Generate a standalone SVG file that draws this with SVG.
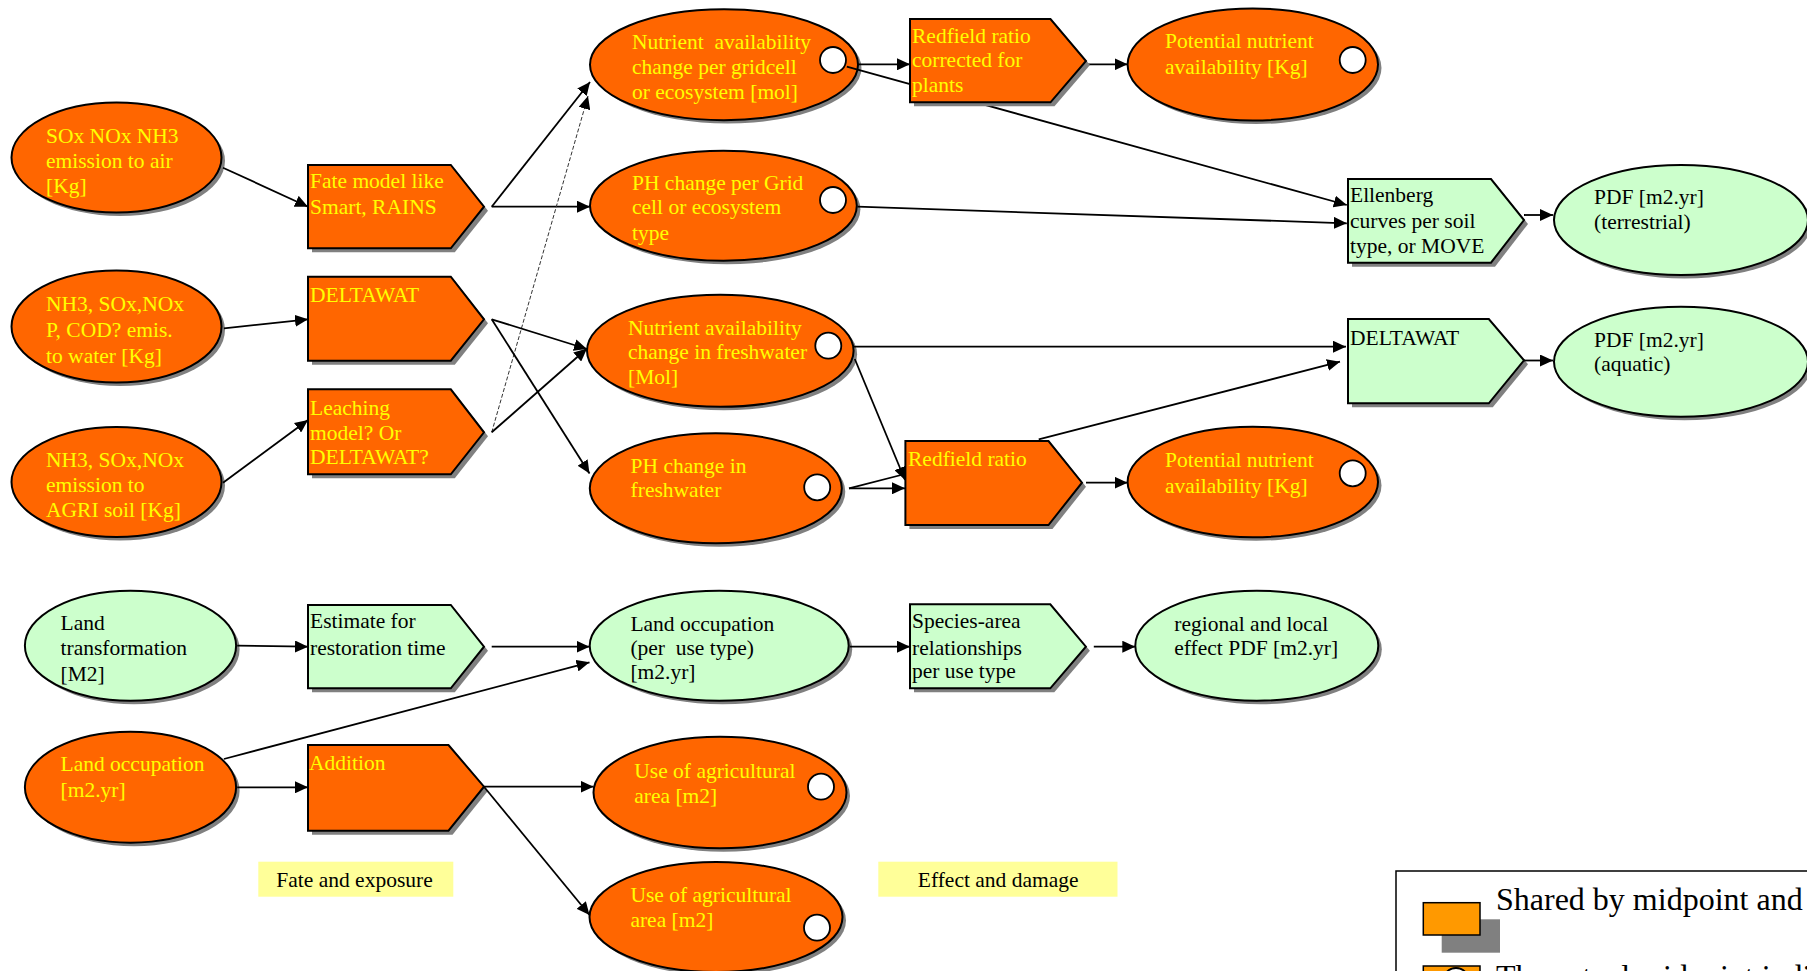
<svg xmlns="http://www.w3.org/2000/svg" width="1807" height="971" viewBox="0 0 1807 971">
  <style>
    text { font-family: "Liberation Serif", "Times New Roman", serif; font-size: 21.5px; }
    .ye { fill: #FFFF00; }
    .bk { fill: #000000; }
    .or { fill: #FF6600; stroke: #000; stroke-width: 2; }
    .gr { fill: #CCFFCC; stroke: #000; stroke-width: 2; }
    .sh { fill: #808080; stroke: none; }
    .dot { fill: #FFFFFF; stroke: #000; stroke-width: 1.8; }
    .ln { fill: none; stroke: #000; stroke-width: 1.8; }
    .arr { marker-end: url(#ah); }
    .dash { fill: none; stroke: #333; stroke-width: 1; stroke-dasharray: 4 2; }
    .tag { fill: #FFFF99; }
  </style>
  <defs>
    <marker id="ah" markerUnits="userSpaceOnUse" markerWidth="14" markerHeight="12" refX="13" refY="6" orient="auto">
      <path d="M0,0 L13,6 L0,12 z" fill="#000"/>
    </marker>
    <marker id="ahs" markerUnits="userSpaceOnUse" markerWidth="14" markerHeight="12" refX="13" refY="6" orient="auto">
      <path d="M0,0 L13,6 L0,12 z" fill="#000"/>
    </marker>
  </defs>
  <rect width="1807" height="971" fill="#FFFFFF"/>

  <!-- emission sources -->
  <g id="sox-air">
    <ellipse class="sh" cx="120" cy="161" rx="105" ry="55"/>
    <ellipse class="or" cx="116.5" cy="157.5" rx="105" ry="55"/>
    <text class="ye" x="46"><tspan x="46" y="142.5">SOx NOx NH3</tspan><tspan x="46" y="167.5">emission to air</tspan><tspan x="46" y="192.5">[Kg]</tspan></text>
  </g>
  <g id="emis-water">
    <ellipse class="sh" cx="120" cy="330" rx="105" ry="56"/>
    <ellipse class="or" cx="116.5" cy="326.5" rx="105" ry="56"/>
    <text class="ye"><tspan x="46" y="311">NH3, SOx,NOx</tspan><tspan x="46" y="336.5">P, COD? emis.</tspan><tspan x="46" y="362.5">to water [Kg]</tspan></text>
  </g>
  <g id="emis-soil">
    <ellipse class="sh" cx="120" cy="485.5" rx="105" ry="55"/>
    <ellipse class="or" cx="116.5" cy="482" rx="105" ry="55"/>
    <text class="ye"><tspan x="46" y="467">NH3, SOx,NOx</tspan><tspan x="46" y="491.5">emission to</tspan><tspan x="46" y="516.5">AGRI soil [Kg]</tspan></text>
  </g>

  <!-- fate models -->
  <g id="fate-model">
    <path class="sh" d="M312,169 H454.8 L488,210.7 L454.8,252.3 H312 Z"/>
    <path class="or" d="M308,165 H450.8 L484,206.7 L450.8,248.3 H308 Z"/>
    <text class="ye"><tspan x="310" y="188.3">Fate model like</tspan><tspan x="310" y="214.3">Smart, RAINS</tspan></text>
  </g>
  <g id="deltawat-fate">
    <path class="sh" d="M312,280.7 H454.8 L488,323.3 L454.8,364.7 H312 Z"/>
    <path class="or" d="M308,276.7 H450.8 L484,319.3 L450.8,360.7 H308 Z"/>
    <text class="ye" x="310" y="302.3">DELTAWAT</text>
  </g>
  <g id="leaching">
    <path class="sh" d="M312,393.3 H454.8 L488,436.3 L454.8,478.3 H312 Z"/>
    <path class="or" d="M308,389.3 H450.8 L484,432.3 L450.8,474.3 H308 Z"/>
    <text class="ye"><tspan x="310" y="415">Leaching</tspan><tspan x="310" y="440">model? Or</tspan><tspan x="310" y="464">DELTAWAT?</tspan></text>
  </g>

  <!-- midpoints -->
  <g id="nutrient-grid">
    <ellipse class="sh" cx="727.5" cy="68" rx="134" ry="55.5"/>
    <ellipse class="or" cx="724" cy="64.7" rx="134" ry="55.5"/>
    <circle class="dot" cx="833" cy="60" r="13"/>
    <text class="ye" xml:space="preserve"><tspan x="632" y="49.3">Nutrient  availability</tspan><tspan x="632" y="74">change per gridcell</tspan><tspan x="632" y="99">or ecosystem [mol]</tspan></text>
  </g>
  <g id="ph-grid">
    <ellipse class="sh" cx="727" cy="209.3" rx="133.4" ry="55"/>
    <ellipse class="or" cx="723.4" cy="205.8" rx="133.4" ry="55"/>
    <circle class="dot" cx="833" cy="200" r="13"/>
    <text class="ye"><tspan x="632" y="190">PH change per Grid</tspan><tspan x="632" y="214.3">cell or ecosystem</tspan><tspan x="632" y="240">type</tspan></text>
  </g>
  <g id="nutrient-fresh">
    <ellipse class="sh" cx="723.8" cy="354.3" rx="133.3" ry="56"/>
    <ellipse class="or" cx="720.3" cy="350.8" rx="133.3" ry="56"/>
    <circle class="dot" cx="828.3" cy="345.7" r="13"/>
    <text class="ye"><tspan x="628" y="335">Nutrient availability</tspan><tspan x="628" y="359">change in freshwater</tspan><tspan x="628" y="384">[Mol]</tspan></text>
  </g>
  <g id="ph-fresh">
    <ellipse class="sh" cx="719.3" cy="491.8" rx="126" ry="55"/>
    <ellipse class="or" cx="715.8" cy="488.3" rx="126" ry="55"/>
    <circle class="dot" cx="817.2" cy="487.3" r="13"/>
    <text class="ye"><tspan x="630.6" y="472.7">PH change in</tspan><tspan x="630.6" y="496.7">freshwater</tspan></text>
  </g>

  <g id="potential-1">
    <ellipse class="sh" cx="1256.3" cy="68" rx="125.2" ry="56"/>
    <ellipse class="or" cx="1252.8" cy="64.5" rx="125.2" ry="56"/>
    <circle class="dot" cx="1352.7" cy="60" r="13"/>
    <text class="ye"><tspan x="1165" y="48.3">Potential nutrient</tspan><tspan x="1165" y="74">availability [Kg]</tspan></text>
  </g>
  <g id="redfield">
    <path class="sh" d="M909.4,445 H1052.5 L1086,486.7 L1052.5,529 H909.4 Z"/>
    <path class="or" d="M905.4,441 H1048.5 L1082,482.7 L1048.5,525 H905.4 Z"/>
    <text class="ye" x="908" y="466">Redfield ratio</text>
  </g>
  <g id="potential-2">
    <ellipse class="sh" cx="1256.3" cy="485.5" rx="125.2" ry="55.3"/>
    <ellipse class="or" cx="1252.8" cy="482" rx="125.2" ry="55.3"/>
    <circle class="dot" cx="1352.7" cy="473.3" r="13"/>
    <text class="ye"><tspan x="1165" y="466.7">Potential nutrient</tspan><tspan x="1165" y="492.7">availability [Kg]</tspan></text>
  </g>

  <!-- effect models and endpoints -->
  <g id="ellenberg">
    <path class="sh" d="M1352,183 H1495 L1528,224 L1495,266.7 H1352 Z"/>
    <path class="gr" d="M1348,179 H1491 L1524,220 L1491,262.7 H1348 Z"/>
    <text class="bk"><tspan x="1350" y="201.7">Ellenberg</tspan><tspan x="1350" y="228.3">curves per soil</tspan><tspan x="1350" y="253.3">type, or MOVE</tspan></text>
  </g>
  <g id="pdf-terrestrial">
    <ellipse class="sh" cx="1684.5" cy="223.5" rx="127" ry="55"/>
    <ellipse class="gr" cx="1681" cy="220" rx="127" ry="55"/>
    <text class="bk"><tspan x="1594" y="204">PDF [m2.yr]</tspan><tspan x="1594" y="229.3">(terrestrial)</tspan></text>
  </g>
  <g id="deltawat-effect">
    <path class="sh" d="M1352,323 H1492.8 L1528,364.3 L1492.8,407.3 H1352 Z"/>
    <path class="gr" d="M1348,319 H1488.8 L1524,360.3 L1488.8,403.3 H1348 Z"/>
    <text class="bk" x="1350" y="345">DELTAWAT</text>
  </g>
  <g id="pdf-aquatic">
    <ellipse class="sh" cx="1684.5" cy="365.2" rx="127" ry="55"/>
    <ellipse class="gr" cx="1681" cy="361.7" rx="127" ry="55"/>
    <text class="bk"><tspan x="1594" y="346.7">PDF [m2.yr]</tspan><tspan x="1594" y="370.7">(aquatic)</tspan></text>
  </g>

  <!-- land use chain -->
  <g id="land-transformation">
    <ellipse class="sh" cx="134" cy="649.2" rx="105.6" ry="55"/>
    <ellipse class="gr" cx="130.5" cy="645.7" rx="105.6" ry="55"/>
    <text class="bk"><tspan x="60.5" y="630">Land</tspan><tspan x="60.5" y="655">transformation</tspan><tspan x="60.5" y="680.7">[M2]</tspan></text>
  </g>
  <g id="restoration">
    <path class="sh" d="M312,609 H454.8 L488,650.7 L454.8,692.3 H312 Z"/>
    <path class="gr" d="M308,605 H450.8 L484,646.7 L450.8,688.3 H308 Z"/>
    <text class="bk"><tspan x="310" y="628.3">Estimate for</tspan><tspan x="310" y="655">restoration time</tspan></text>
  </g>
  <g id="land-occupation-type">
    <ellipse class="sh" cx="722.7" cy="649.2" rx="129.5" ry="55"/>
    <ellipse class="gr" cx="719.2" cy="645.7" rx="129.5" ry="55"/>
    <text class="bk" xml:space="preserve"><tspan x="630.4" y="630.7">Land occupation</tspan><tspan x="630.4" y="655">(per  use type)</tspan><tspan x="630.4" y="679.3">[m2.yr]</tspan></text>
  </g>
  <g id="species-area">
    <path class="sh" d="M914,608.3 H1054.3 L1089.9,650.7 L1054.3,692.3 H914 Z"/>
    <path class="gr" d="M910,604.3 H1050.3 L1085.9,646.7 L1050.3,688.3 H910 Z"/>
    <text class="bk"><tspan x="912" y="628.3">Species-area</tspan><tspan x="912" y="655">relationships</tspan><tspan x="912" y="678.3">per use type</tspan></text>
  </g>
  <g id="regional-pdf">
    <ellipse class="sh" cx="1260.3" cy="649.2" rx="121.5" ry="55"/>
    <ellipse class="gr" cx="1256.8" cy="645.7" rx="121.5" ry="55"/>
    <text class="bk"><tspan x="1174.3" y="630.7">regional and local</tspan><tspan x="1174.3" y="655">effect PDF [m2.yr]</tspan></text>
  </g>
  <g id="land-occupation">
    <ellipse class="sh" cx="134" cy="790.7" rx="105.6" ry="55.5"/>
    <ellipse class="or" cx="130.5" cy="787.2" rx="105.6" ry="55.5"/>
    <text class="ye"><tspan x="60.5" y="770.7">Land occupation</tspan><tspan x="60.5" y="796.7">[m2.yr]</tspan></text>
  </g>
  <g id="addition">
    <path class="sh" d="M312,749 H452.5 L488,790.7 L452.5,834.7 H312 Z"/>
    <path class="or" d="M308,745 H448.5 L484,786.7 L448.5,830.7 H308 Z"/>
    <text class="ye" x="309" y="770">Addition</text>
  </g>
  <g id="agri-area-1">
    <ellipse class="sh" cx="723.5" cy="796" rx="126.5" ry="55.8"/>
    <ellipse class="or" cx="720" cy="792.5" rx="126.5" ry="55.8"/>
    <circle class="dot" cx="821" cy="786.7" r="13"/>
    <text class="ye"><tspan x="634.3" y="778.3">Use of agricultural</tspan><tspan x="634.3" y="803.3">area [m2]</tspan></text>
  </g>
  <g id="agri-area-2">
    <ellipse class="sh" cx="719.5" cy="920.5" rx="126.5" ry="55"/>
    <ellipse class="or" cx="716" cy="917" rx="126.5" ry="55"/>
    <circle class="dot" cx="817" cy="927.7" r="13"/>
    <text class="ye"><tspan x="630.4" y="901.7">Use of agricultural</tspan><tspan x="630.4" y="926.7">area [m2]</tspan></text>
  </g>

  <!-- stage labels -->
  <g id="label-fate">
    <rect class="tag" x="258.3" y="861.7" width="195" height="35"/>
    <text class="bk" x="276.3" y="886.7">Fate and exposure</text>
  </g>
  <g id="label-effect">
    <rect class="tag" x="878.3" y="861.7" width="239.2" height="35"/>
    <text class="bk" x="917.8" y="886.7">Effect and damage</text>
  </g>

  <!-- connectors -->
  <g id="connectors">
    <line class="ln arr" x1="223" y1="167.7" x2="308" y2="206.7"/>
    <line class="ln arr" x1="223.9" y1="328.3" x2="308" y2="319.3"/>
    <line class="ln arr" x1="223" y1="482.7" x2="308" y2="420"/>
    <line class="ln arr" x1="491.7" y1="206.7" x2="590" y2="82"/>
    <line class="ln arr" x1="491.7" y1="206.7" x2="590" y2="206.7"/>
    <line class="dash" x1="491.7" y1="432.3" x2="588" y2="96" marker-end="url(#ahs)"/>
    <line class="ln arr" x1="491.7" y1="319.3" x2="587" y2="349"/>
    <line class="ln arr" x1="491.7" y1="319.3" x2="589.5" y2="473.5"/>
    <line class="ln arr" x1="491.7" y1="432.3" x2="587" y2="348.5"/>
    <line class="ln arr" x1="858" y1="64.3" x2="910" y2="64.3"/>
    <line class="ln arr" x1="846.8" y1="66.7" x2="1346.8" y2="205"/>
    <line class="ln arr" x1="857.5" y1="206.7" x2="1346.8" y2="223.3"/>
    <line class="ln arr" x1="1087" y1="64.3" x2="1127.6" y2="64.3"/>
    <line class="ln arr" x1="1524" y1="215" x2="1553" y2="215"/>
    <line class="ln arr" x1="853.6" y1="346.7" x2="1346" y2="346.7"/>
    <line class="ln arr" x1="854.8" y1="359" x2="905" y2="480"/>
    <line class="ln arr" x1="849" y1="488.3" x2="905" y2="488.3"/>
    <line class="ln" x1="849" y1="488.3" x2="905" y2="474"/>
    <line class="ln arr" x1="1038.7" y1="439.3" x2="1340" y2="361.7"/>
    <line class="ln arr" x1="1086" y1="482.7" x2="1127.6" y2="482.7"/>
    <line class="ln arr" x1="1524" y1="360.5" x2="1553" y2="360.5"/>
    <line class="ln arr" x1="237.2" y1="645.7" x2="308" y2="646.7"/>
    <line class="ln arr" x1="491.7" y1="646.7" x2="589.5" y2="646.7"/>
    <line class="ln arr" x1="223.9" y1="759" x2="589.5" y2="662.3"/>
    <line class="ln arr" x1="237.2" y1="787.3" x2="308" y2="787.3"/>
    <line class="ln arr" x1="484" y1="786.7" x2="593.5" y2="786.7"/>
    <line class="ln arr" x1="484" y1="786.7" x2="589.5" y2="915"/>
    <line class="ln arr" x1="849.8" y1="646.7" x2="910" y2="646.7"/>
    <line class="ln arr" x1="1093.8" y1="646.7" x2="1135.3" y2="646.7"/>
  </g>

  <!-- drawn above the connector that passes behind it -->
  <g id="redfield-plants">
    <path class="sh" d="M914,23 H1054.5 L1090,65 L1054.5,106.3 H914 Z"/>
    <path class="or" d="M910,19 H1050.5 L1086,61 L1050.5,102.3 H910 Z"/>
    <text class="ye"><tspan x="912" y="42.7">Redfield ratio</tspan><tspan x="912" y="66.7">corrected for</tspan><tspan x="912" y="91.7">plants</tspan></text>
  </g>

  <!-- legend -->
  <g id="legend">
    <rect x="1396" y="871" width="430" height="120" fill="#FFFFFF" stroke="#000" stroke-width="1.5"/>
    <rect x="1441.7" y="919.3" width="58.3" height="33.4" fill="#808080"/>
    <rect x="1423.3" y="902.7" width="56.7" height="32.3" fill="#FF9900" stroke="#000" stroke-width="1.5"/>
    <text class="bk" x="1496" y="910" style="font-size:32px">Shared by midpoint and</text>
    <rect x="1423.3" y="966" width="56.7" height="30" fill="#FF9900" stroke="#000" stroke-width="1.5"/>
    <circle class="dot" cx="1456" cy="981" r="13"/>
    <text class="bk" x="1496" y="987" style="font-size:32px">The actual midpoint indi</text>
  </g>
</svg>
